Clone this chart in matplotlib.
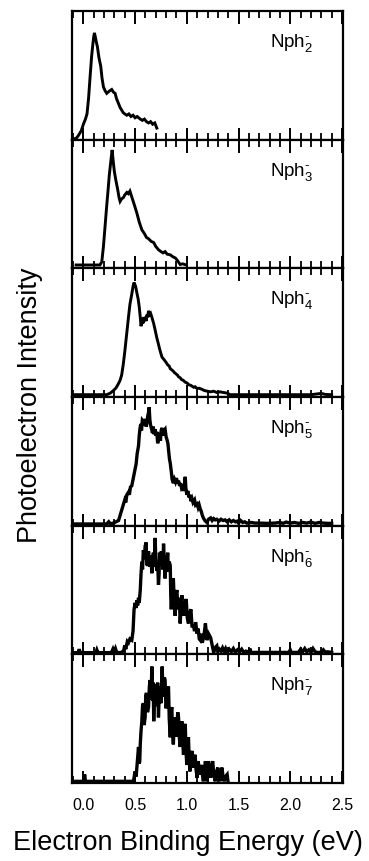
import matplotlib
matplotlib.use("Agg")
import matplotlib.pyplot as plt
from matplotlib.ticker import MultipleLocator

plt.rcParams['font.family'] = ['Liberation Sans', 'DejaVu Sans']
plt.rcParams['mathtext.fontset'] = 'custom'
plt.rcParams['mathtext.rm'] = 'Liberation Sans'
plt.rcParams['mathtext.it'] = 'Liberation Sans'

# spectra: (binding energy eV, intensity arb. units)
nph2 = [(-0.10, 0.005), (-0.07, 0.01), (-0.05, 0.03), (-0.02, 0.07), (0.00, 0.12), (0.02, 0.16),
        (0.035, 0.20), (0.05, 0.32), (0.065, 0.49), (0.08, 0.65), (0.09, 0.73), (0.10, 0.80),
        (0.107, 0.83), (0.115, 0.80), (0.125, 0.76), (0.136, 0.72), (0.15, 0.64), (0.168, 0.57),
        (0.18, 0.48), (0.194, 0.41), (0.21, 0.38), (0.226, 0.36), (0.24, 0.37), (0.255, 0.38),
        (0.274, 0.39), (0.29, 0.37), (0.307, 0.36), (0.32, 0.32), (0.34, 0.28), (0.355, 0.25),
        (0.37, 0.23), (0.385, 0.21), (0.40, 0.20), (0.42, 0.19), (0.44, 0.20), (0.46, 0.18),
        (0.48, 0.19), (0.50, 0.17), (0.52, 0.18), (0.55, 0.16), (0.57, 0.15), (0.59, 0.16),
        (0.61, 0.14), (0.63, 0.13), (0.65, 0.14), (0.67, 0.12), (0.69, 0.13), (0.70, 0.11),
        (0.71, 0.09)]

nph3 = [(-0.07, 0.026), (0.16, 0.026), (0.178, 0.05), (0.194, 0.17), (0.21, 0.33), (0.226, 0.49),
        (0.24, 0.62), (0.25, 0.72), (0.265, 0.83), (0.278, 0.92), (0.29, 0.82), (0.30, 0.75),
        (0.315, 0.68), (0.33, 0.62), (0.345, 0.55), (0.355, 0.52), (0.37, 0.54), (0.387, 0.55),
        (0.40, 0.57), (0.42, 0.59), (0.435, 0.58), (0.45, 0.60), (0.47, 0.55), (0.49, 0.50),
        (0.517, 0.43), (0.54, 0.36), (0.565, 0.30), (0.59, 0.27), (0.61, 0.24), (0.63, 0.23),
        (0.655, 0.21), (0.68, 0.20), (0.70, 0.17), (0.726, 0.145), (0.75, 0.13), (0.77, 0.12),
        (0.79, 0.13), (0.81, 0.11), (0.84, 0.105), (0.865, 0.09), (0.89, 0.08), (0.91, 0.06),
        (0.936, 0.03), (0.96, 0.035), (0.994, 0.026)]

nph4 = [(-0.10, 0.018), (0.226, 0.018), (0.26, 0.03), (0.29, 0.05), (0.315, 0.07), (0.34, 0.105),
        (0.355, 0.13), (0.37, 0.17), (0.385, 0.25), (0.40, 0.35), (0.42, 0.50), (0.436, 0.62),
        (0.45, 0.72), (0.468, 0.80), (0.48, 0.86), (0.49, 0.89), (0.505, 0.86), (0.517, 0.81),
        (0.53, 0.76), (0.54, 0.70), (0.55, 0.62), (0.558, 0.55), (0.565, 0.60), (0.572, 0.57),
        (0.58, 0.62), (0.59, 0.60), (0.60, 0.62), (0.607, 0.59), (0.615, 0.64), (0.62, 0.62),
        (0.63, 0.67), (0.64, 0.64), (0.65, 0.65), (0.662, 0.62), (0.68, 0.57), (0.694, 0.52),
        (0.71, 0.46), (0.726, 0.41), (0.735, 0.38), (0.745, 0.35), (0.76, 0.31), (0.77, 0.30),
        (0.78, 0.29), (0.79, 0.28), (0.807, 0.26), (0.815, 0.25), (0.83, 0.24), (0.84, 0.22),
        (0.856, 0.21), (0.87, 0.20), (0.88, 0.19), (0.895, 0.18), (0.91, 0.17), (0.92, 0.157),
        (0.935, 0.15), (0.95, 0.135), (0.965, 0.13), (0.985, 0.115), (1.00, 0.11), (1.02, 0.095),
        (1.04, 0.09), (1.065, 0.076), (1.08, 0.08), (1.10, 0.065), (1.12, 0.068), (1.146, 0.06),
        (1.17, 0.05), (1.20, 0.045), (1.23, 0.04), (1.26, 0.045), (1.29, 0.035), (1.32, 0.04),
        (1.355, 0.035), (1.39, 0.03), (1.42, 0.018), (1.60, 0.018), (1.80, 0.018), (2.00, 0.018),
        (2.20, 0.018), (2.26, 0.024), (2.30, 0.028), (2.34, 0.02), (2.40, 0.018)]

nph5 = [(-0.10, 0.013), (0.226, 0.013), (0.245, 0.03), (0.26, 0.015), (0.29, 0.02), (0.315, 0.03),
        (0.34, 0.04), (0.355, 0.08), (0.37, 0.12), (0.385, 0.16), (0.40, 0.20), (0.41, 0.18),
        (0.42, 0.24), (0.436, 0.26), (0.445, 0.24), (0.455, 0.30), (0.468, 0.31), (0.48, 0.36),
        (0.49, 0.40), (0.50, 0.44), (0.51, 0.48), (0.52, 0.56), (0.533, 0.62), (0.54, 0.70),
        (0.548, 0.76), (0.555, 0.79), (0.562, 0.74), (0.57, 0.82), (0.58, 0.81), (0.59, 0.78),
        (0.598, 0.83), (0.607, 0.77), (0.615, 0.80), (0.622, 0.85), (0.63, 0.88), (0.636, 0.92),
        (0.643, 0.82), (0.65, 0.78), (0.66, 0.75), (0.668, 0.72), (0.675, 0.77), (0.685, 0.71),
        (0.694, 0.75), (0.70, 0.70), (0.71, 0.73), (0.718, 0.64), (0.726, 0.67), (0.735, 0.72),
        (0.745, 0.66), (0.752, 0.74), (0.76, 0.76), (0.77, 0.70), (0.78, 0.74), (0.79, 0.75),
        (0.80, 0.69), (0.808, 0.67), (0.817, 0.64), (0.825, 0.58), (0.832, 0.52), (0.84, 0.485),
        (0.85, 0.42), (0.858, 0.36), (0.87, 0.33), (0.88, 0.36), (0.89, 0.34), (0.90, 0.37),
        (0.91, 0.33), (0.92, 0.35), (0.93, 0.31), (0.94, 0.33), (0.95, 0.29), (0.96, 0.30),
        (0.97, 0.27), (0.978, 0.33), (0.985, 0.38), (0.99, 0.30), (1.00, 0.24), (1.01, 0.27),
        (1.02, 0.22), (1.03, 0.24), (1.04, 0.19), (1.05, 0.21), (1.06, 0.18), (1.075, 0.20),
        (1.085, 0.16), (1.10, 0.17), (1.11, 0.14), (1.12, 0.16), (1.13, 0.13), (1.14, 0.11),
        (1.15, 0.08), (1.16, 0.06), (1.175, 0.04), (1.195, 0.024), (1.21, 0.05), (1.23, 0.06),
        (1.245, 0.04), (1.26, 0.055), (1.275, 0.045), (1.29, 0.05), (1.31, 0.035), (1.33, 0.05),
        (1.35, 0.04), (1.37, 0.045), (1.39, 0.03), (1.41, 0.045), (1.43, 0.03), (1.45, 0.04),
        (1.47, 0.03), (1.485, 0.035), (1.50, 0.02), (1.52, 0.04), (1.54, 0.025), (1.56, 0.03),
        (1.58, 0.02), (1.62, 0.025), (1.66, 0.02), (1.70, 0.02), (1.78, 0.018), (1.85, 0.02),
        (1.90, 0.025), (1.93, 0.018), (1.96, 0.028), (2.00, 0.02), (2.04, 0.025), (2.08, 0.018),
        (2.12, 0.025), (2.16, 0.02), (2.20, 0.028), (2.24, 0.018), (2.28, 0.025), (2.32, 0.02),
        (2.36, 0.018), (2.40, 0.018)]

nph6 = [(-0.10, 0.013), (-0.05, 0.013), (-0.04, 0.04), (-0.03, 0.013), (0.12, 0.013), (0.13, 0.035),
        (0.14, 0.013), (0.27, 0.013), (0.285, 0.04), (0.295, 0.015), (0.31, 0.045), (0.32, 0.02),
        (0.33, 0.013), (0.37, 0.015), (0.39, 0.03), (0.40, 0.07), (0.41, 0.04), (0.425, 0.10),
        (0.436, 0.09), (0.45, 0.12), (0.468, 0.11), (0.48, 0.18), (0.49, 0.35), (0.50, 0.40),
        (0.51, 0.36), (0.517, 0.42), (0.525, 0.38), (0.533, 0.44), (0.54, 0.40), (0.55, 0.50),
        (0.557, 0.62), (0.565, 0.72), (0.572, 0.66), (0.58, 0.81), (0.59, 0.74), (0.597, 0.84),
        (0.607, 0.87), (0.613, 0.70), (0.62, 0.69), (0.63, 0.80), (0.64, 0.68), (0.646, 0.77),
        (0.655, 0.72), (0.662, 0.63), (0.67, 0.75), (0.677, 0.79), (0.685, 0.68), (0.694, 0.905),
        (0.70, 0.74), (0.71, 0.65), (0.718, 0.72), (0.726, 0.54), (0.732, 0.62), (0.736, 0.79),
        (0.745, 0.70), (0.752, 0.80), (0.76, 0.77), (0.768, 0.66), (0.775, 0.86), (0.783, 0.72),
        (0.79, 0.59), (0.80, 0.77), (0.807, 0.70), (0.815, 0.79), (0.823, 0.64), (0.83, 0.72),
        (0.84, 0.69), (0.845, 0.45), (0.85, 0.35), (0.86, 0.52), (0.87, 0.59), (0.878, 0.42),
        (0.887, 0.30), (0.895, 0.46), (0.904, 0.50), (0.912, 0.38), (0.92, 0.35), (0.928, 0.44),
        (0.936, 0.24), (0.944, 0.36), (0.952, 0.46), (0.96, 0.30), (0.968, 0.38), (0.975, 0.30),
        (0.985, 0.40), (0.994, 0.43), (1.005, 0.28), (1.016, 0.24), (1.025, 0.32), (1.04, 0.35),
        (1.05, 0.22), (1.065, 0.22), (1.075, 0.18), (1.085, 0.25), (1.10, 0.16), (1.11, 0.20),
        (1.12, 0.12), (1.13, 0.11), (1.14, 0.16), (1.15, 0.09), (1.165, 0.14), (1.18, 0.24),
        (1.19, 0.15), (1.195, 0.11), (1.21, 0.16), (1.23, 0.13), (1.245, 0.07), (1.26, 0.013),
        (1.27, 0.05), (1.29, 0.066), (1.30, 0.02), (1.315, 0.04), (1.33, 0.026), (1.345, 0.05),
        (1.36, 0.02), (1.375, 0.045), (1.39, 0.015), (1.41, 0.04), (1.43, 0.02), (1.45, 0.045),
        (1.47, 0.015), (1.49, 0.035), (1.51, 0.02), (1.53, 0.04), (1.55, 0.015), (1.57, 0.025),
        (1.60, 0.015), (1.61, 0.045), (1.62, 0.015), (1.80, 0.015), (1.99, 0.015), (2.00, 0.035),
        (2.01, 0.015), (2.08, 0.015), (2.10, 0.04), (2.12, 0.02), (2.14, 0.045), (2.16, 0.02),
        (2.18, 0.035), (2.20, 0.015), (2.22, 0.045), (2.24, 0.02), (2.26, 0.015), (2.30, 0.015),
        (2.32, 0.035), (2.34, 0.015), (2.36, 0.02), (2.40, 0.015)]

nph7 = [(-0.10, 0.013), (0.005, 0.013), (0.012, 0.066), (0.02, 0.013), (0.484, 0.013), (0.50, 0.09),
        (0.51, 0.05), (0.517, 0.12), (0.525, 0.20), (0.533, 0.28), (0.54, 0.15), (0.545, 0.17),
        (0.55, 0.30), (0.557, 0.40), (0.565, 0.48), (0.572, 0.60), (0.58, 0.62), (0.587, 0.45),
        (0.597, 0.51), (0.603, 0.68), (0.61, 0.70), (0.62, 0.55), (0.63, 0.59), (0.638, 0.75),
        (0.646, 0.80), (0.654, 0.65), (0.662, 0.905), (0.667, 0.70), (0.67, 0.64), (0.675, 0.78),
        (0.68, 0.48), (0.69, 0.77), (0.70, 0.60), (0.71, 0.62), (0.718, 0.78), (0.726, 0.51),
        (0.733, 0.68), (0.74, 0.75), (0.75, 0.62), (0.762, 0.905), (0.768, 0.72), (0.775, 0.67),
        (0.783, 0.82), (0.79, 0.80), (0.798, 0.58), (0.807, 0.62), (0.815, 0.72), (0.823, 0.75),
        (0.83, 0.50), (0.84, 0.355), (0.848, 0.55), (0.855, 0.59), (0.862, 0.40), (0.87, 0.30),
        (0.878, 0.48), (0.887, 0.51), (0.895, 0.36), (0.904, 0.43), (0.912, 0.55), (0.92, 0.51),
        (0.928, 0.35), (0.936, 0.28), (0.944, 0.40), (0.952, 0.48), (0.96, 0.33), (0.968, 0.22),
        (0.976, 0.38), (0.985, 0.46), (0.992, 0.25), (1.00, 0.14), (1.008, 0.28), (1.016, 0.355),
        (1.023, 0.18), (1.03, 0.09), (1.04, 0.20), (1.05, 0.25), (1.058, 0.14), (1.065, 0.12),
        (1.072, 0.20), (1.08, 0.22), (1.09, 0.10), (1.10, 0.04), (1.105, 0.12), (1.11, 0.17),
        (1.12, 0.10), (1.13, 0.066), (1.138, 0.12), (1.145, 0.14), (1.152, 0.06), (1.16, 0.013),
        (1.17, 0.10), (1.18, 0.17), (1.188, 0.08), (1.195, 0.013), (1.203, 0.12), (1.21, 0.17),
        (1.22, 0.09), (1.23, 0.04), (1.24, 0.12), (1.25, 0.17), (1.262, 0.06), (1.275, 0.013),
        (1.288, 0.09), (1.30, 0.12), (1.31, 0.05), (1.32, 0.013), (1.33, 0.08), (1.34, 0.12),
        (1.35, 0.05), (1.36, 0.013), (1.375, 0.05), (1.39, 0.066), (1.40, 0.0)]

spectra = [nph2, nph3, nph4, nph5, nph6, nph7]
labels = [r'Nph$_2^{\text{-}}$', r'Nph$_3^{\text{-}}$', r'Nph$_4^{\text{-}}$',
          r'Nph$_5^{\text{-}}$', r'Nph$_6^{\text{-}}$', r'Nph$_7^{\text{-}}$']
xticks = [0.0, 0.5, 1.0, 1.5, 2.0, 2.5]

W, H = 369, 862
fig = plt.figure(figsize=(W / 100, H / 100), dpi=100)

left, right = 72, 343
top, bottom = 12, 784
ph = (bottom - top) / len(spectra)

axes = []
for i, (pts, lab) in enumerate(zip(spectra, labels)):
    ax = fig.add_axes([left / W, 1 - (top + (i + 1) * ph) / H, (right - left) / W, ph / H])
    e, inten = zip(*pts)
    ax.plot(e, inten, color='black', lw=2.1 if i < 3 else 2.4, solid_joinstyle='miter')
    ax.set_xlim(-0.11, 2.51)
    ax.set_ylim(0, 1)
    ax.set_xticks(xticks)
    ax.xaxis.set_minor_locator(MultipleLocator(0.1))
    ax.tick_params(axis='x', which='both', direction='in', top=True, bottom=True,
                   labelbottom=(i == len(spectra) - 1), labelsize=11.5, pad=10)
    ax.tick_params(axis='x', which='major', length=9, width=1.4)
    ax.tick_params(axis='x', which='minor', length=5, width=1.3)
    ax.tick_params(axis='y', left=False, labelleft=False)
    for s in ax.spines.values():
        s.set_linewidth(1.6)
    ax.text(0.73, 0.76, lab, transform=ax.transAxes, fontsize=13.5, ha='left', va='center')
    axes.append(ax)

fig.text(30 / W, 1 - 405 / H, 'Photoelectron Intensity', rotation=90,
         ha='center', va='center', fontsize=19.5)
fig.text(188 / W, 1 - 843 / H, 'Electron Binding Energy (eV)',
         ha='center', va='center', fontsize=19.5)

fig.savefig('out.png', dpi=100)
